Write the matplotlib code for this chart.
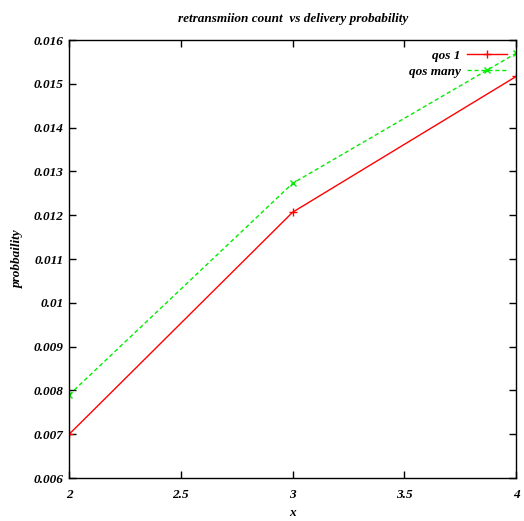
import matplotlib
matplotlib.use("Agg")
import matplotlib.pyplot as plt

x = [2, 3, 4]
qos_1 = [0.00700, 0.01207, 0.01517]
qos_many = [0.00790, 0.01273, 0.01570]
xticks = [2, 2.5, 3, 3.5, 4]
xticklabels = ["2", "2.5", "3", "3.5", "4"]
yticks = [0.006, 0.007, 0.008, 0.009, 0.010, 0.011, 0.012, 0.013, 0.014, 0.015, 0.016]
yticklabels = ["0.006", "0.007", "0.008", "0.009", "0.01", "0.011", "0.012", "0.013", "0.014", "0.015", "0.016"]

plt.rcParams['font.family'] = ['Liberation Serif', 'DejaVu Serif']
font = dict(fontweight='bold', fontstyle='italic')
fs = 9.5

fig = plt.figure(figsize=(5.24, 5.21), dpi=100)
ax = fig.add_axes([0.132, 0.0825, 0.853, 0.8405])

ax.plot(x, qos_1, color='#ff0000', lw=1, marker='+', ms=6, mew=1, label='qos 1')
ax.plot(x, qos_many, color='#00ee00', lw=1, ls=(0, (3, 2)), marker='x', ms=5, mew=1, label='qos many')

ax.set_xlim(2, 4)
ax.set_ylim(0.006, 0.016)
ax.set_xticks(xticks)
ax.set_xticklabels(xticklabels, **font, fontsize=fs)
ax.set_yticks(yticks)
ax.set_yticklabels(yticklabels, **font, fontsize=fs)
ax.tick_params(direction='in', top=True, right=True, length=5, width=1)
ax.tick_params(axis='y', pad=4)
ax.tick_params(axis='x', pad=8)
for s in ax.spines.values():
    s.set_linewidth(1)

ax.set_title('retransmiion count  vs delivery probability', fontsize=fs, pad=13, **font)
ax.set_xlabel('x', fontsize=fs, labelpad=4, **font)
ax.set_ylabel('probbaility', fontsize=fs, labelpad=7, **font)

leg = ax.legend(loc='upper right', frameon=False, markerfirst=False,
                prop=dict(family=['Liberation Serif'], weight='bold', style='italic', size=fs),
                handlelength=3, borderaxespad=0.3, labelspacing=0.3, handletextpad=0.5)

fig.savefig('out.png', dpi=100)
